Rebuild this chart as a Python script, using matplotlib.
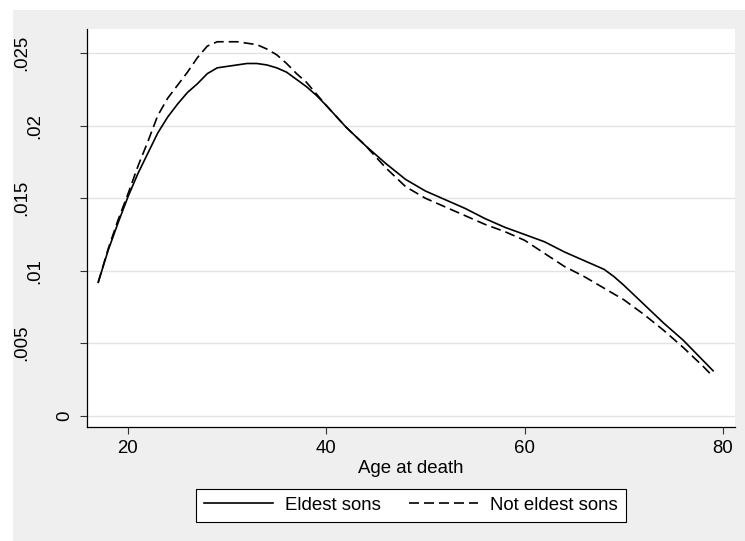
import matplotlib.pyplot as plt
from matplotlib.patches import Rectangle

plt.rcParams['font.family'] = ['Liberation Sans', 'DejaVu Sans']
plt.rcParams['font.size'] = 13.4

# age at death and kernel density values
ages = [17, 18, 19, 20, 21, 22, 23, 24, 25, 26, 27, 28, 29, 30, 31, 32, 33,
        34, 35, 36, 37, 38, 39, 40, 42, 44, 46, 48, 50, 52, 54, 56, 58, 60,
        62, 64, 66, 68, 69, 70, 72, 74, 76, 78, 79]
eldest = [0.0092, 0.0114, 0.0133, 0.0151, 0.0167, 0.0181, 0.0195, 0.0206,
          0.0215, 0.0223, 0.0229, 0.0236, 0.0240, 0.0241, 0.0242, 0.0243,
          0.0243, 0.0242, 0.0240, 0.0237, 0.0232, 0.0227, 0.0221, 0.0214,
          0.0199, 0.0186, 0.0174, 0.0163, 0.0155, 0.0149, 0.0143, 0.0136,
          0.0130, 0.0125, 0.0120, 0.0113, 0.0107, 0.0101, 0.0096, 0.0090,
          0.0077, 0.0064, 0.0052, 0.0038, 0.0031]
not_eldest = [0.0092, 0.0115, 0.0135, 0.0153, 0.0172, 0.0189, 0.0207, 0.0219,
              0.0228, 0.0237, 0.0247, 0.0255, 0.0258, 0.0258, 0.0258, 0.0257,
              0.0256, 0.0253, 0.0249, 0.0243, 0.0236, 0.0230, 0.0222, 0.0214,
              0.0199, 0.0186, 0.0171, 0.0158, 0.0150, 0.0144, 0.0138, 0.0132,
              0.0127, 0.0121, 0.0112, 0.0103, 0.0096, 0.0088, 0.0084, 0.0080,
              0.0070, 0.0059, 0.0047, 0.0034, 0.0027]

x_ticks = [20, 40, 60, 80]
y_ticks = [0, 0.005, 0.01, 0.015, 0.02, 0.025]
y_tick_labels = ['0', '.005', '.01', '.015', '.02', '.025']


def main():
    W, H = 745, 541
    fig = plt.figure(figsize=(W / 100, H / 100), dpi=100, facecolor='white')
    fig.add_artist(Rectangle((13 / W, 0), 1, 1 - 9.5 / H, transform=fig.transFigure,
                             facecolor='#efefef', edgecolor='none', zorder=-5))

    ax = fig.add_axes([87 / W, 1 - 427 / H, 648 / W, 398 / H])
    ax.set_facecolor('white')
    ax.plot(ages, eldest, color='black', lw=1.2, label='Eldest sons')
    ax.plot(ages, not_eldest, color='black', lw=1.2, linestyle=(0, (6, 3)),
            label='Not eldest sons')

    ax.set_xlim(15.87, 81.21)
    ax.set_ylim(-0.00078, 0.02668)
    ax.set_xticks(x_ticks)
    ax.set_yticks(y_ticks)
    ax.tick_params(axis='x', length=5, width=0.8, color='#333333', pad=4.5)
    ax.tick_params(axis='y', length=5, width=0.8, color='#333333', labelleft=False)
    ax.grid(axis='y', color='#e3e3e3', lw=1)
    ax.set_axisbelow(True)
    for side in ['top', 'right']:
        ax.spines[side].set_visible(False)
    for side in ['left', 'bottom']:
        ax.spines[side].set_linewidth(0.9)

    # rotated y labels sit at different offsets in the original
    label_x = {1: -0.034, 3: -0.0802, 4: -0.1011}
    for v, lab in zip(y_ticks, y_tick_labels):
        ax.text(label_x[len(lab)], v, lab, rotation=90, ha='center', va='center',
                transform=ax.get_yaxis_transform())

    ax.set_xlabel('Age at death')
    ax.xaxis.set_label_coords(0.5, -0.084)

    leg = fig.legend(loc='center', bbox_to_anchor=(410.9 / W, 1 - 505.5 / H),
                     ncol=2, frameon=True, fancybox=False, edgecolor='black',
                     framealpha=1, handlelength=3.7, handletextpad=0.65,
                     columnspacing=1.55, borderpad=0.42)
    leg.get_frame().set_linewidth(0.8)

    fig.savefig('out.png', dpi=100)


if __name__ == '__main__':
    main()
